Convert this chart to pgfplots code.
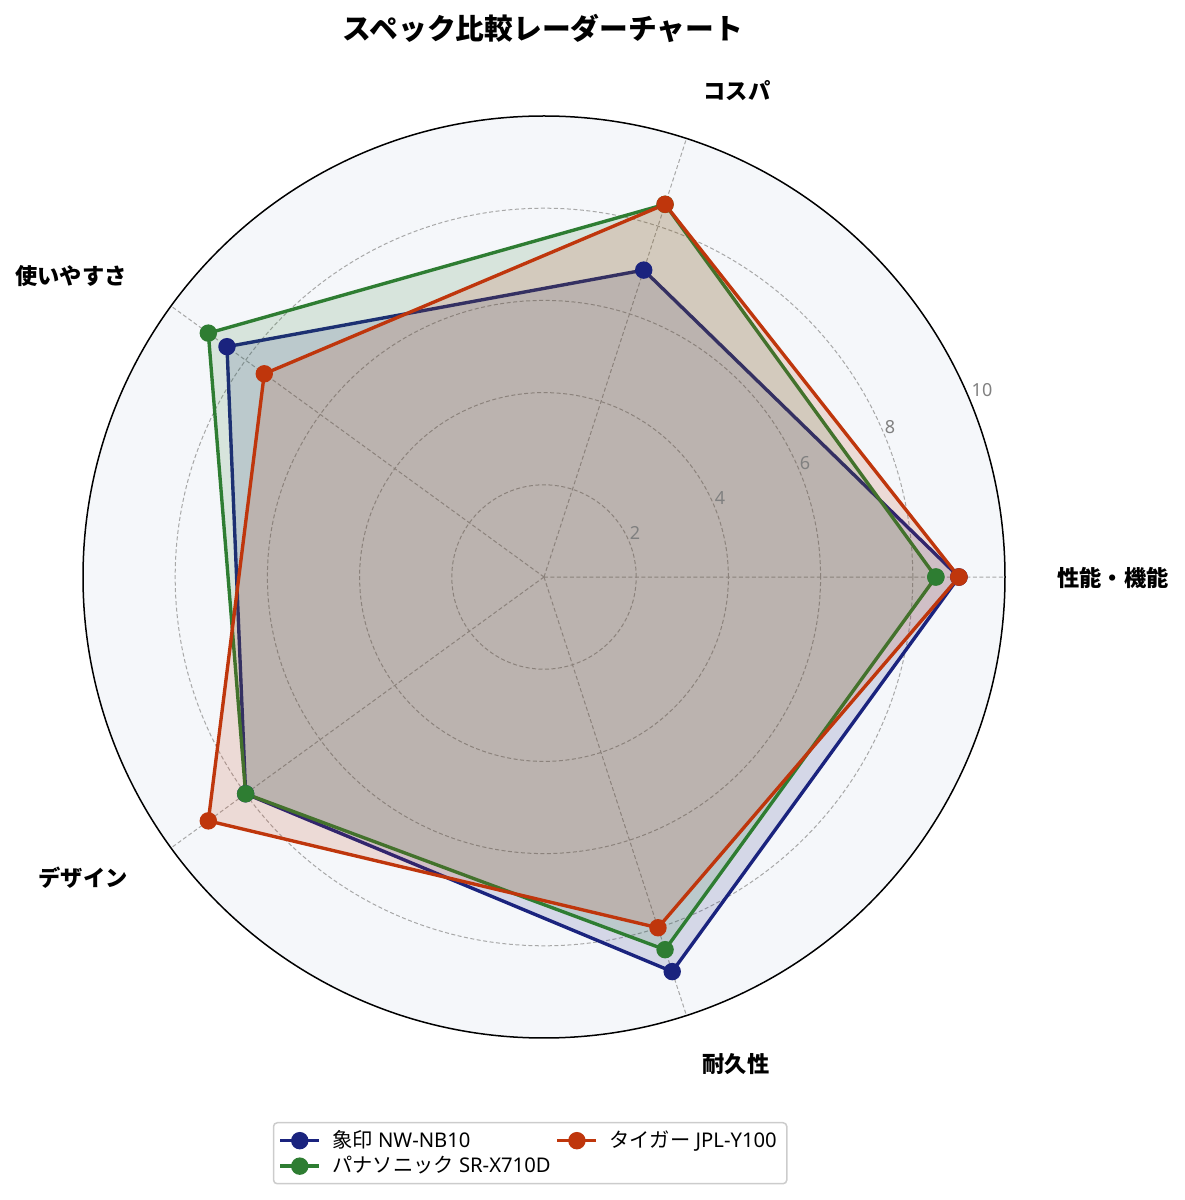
\documentclass[border=0pt]{standalone}
\usepackage{fontspec}
\setmainfont{Noto Sans}
\newfontfamily\jp{Noto Sans CJK JP}
\usepackage{pgfplots}
\pgfplotsset{compat=1.18}
\usepgfplotslibrary{polar}

\definecolor{cblue}{HTML}{1A237E}
\definecolor{cgreen}{HTML}{2E7D32}
\definecolor{cred}{HTML}{BF360C}
\definecolor{bgpolar}{HTML}{F5F7FA}
\definecolor{gridc}{HTML}{A8A8A8}
\definecolor{tickc}{HTML}{808080}

\begin{document}
\begin{tikzpicture}
  % page = 1185 x 1200 px at 0.4pt per px
  \path[use as bounding box] (0,0) rectangle (474pt,480pt);
  \fill[bgpolar] (217.6pt,249.2pt) circle (184.4pt);

  \begin{polaraxis}[
      at={(217.6pt,249.2pt)}, anchor=center,
      scale only axis, width=368.8pt, height=368.8pt,
      ymin=0, ymax=10, clip=false,
      xtick={0,72,144,216,288}, xticklabels={,,,,,},
      ytick={2,4,6,8}, yticklabels={,,,,},
      major tick length=0pt,
      grid=major,
      major grid style={gridc, line width=0.4pt, dash pattern=on 1.6pt off 1pt},
      axis line style={draw=none},
      legend columns=2,
      legend cell align=left,
      legend style={at={(0.485,-0.0911)}, anchor=north,
        draw=black!20, line width=0.6pt, rounded corners=1.5pt,
        font=\fontsize{8.1}{9}\selectfont,
        inner xsep=2pt, inner ysep=1pt,
        /tikz/every odd column/.append style={column sep=2.5pt},
        /tikz/every even column/.append style={column sep=0pt},
        row sep=-2pt},
      legend image code/.code={%
        \draw[mark repeat=2,mark phase=2] plot coordinates {(0cm,0cm) (0.275cm,0cm) (0.55cm,0cm)};},
    ]

    %% legend in matplotlib column order
    \addlegendimage{cblue, line width=1.35pt, mark=*, mark size=2.8pt, mark options={draw=none, fill=cblue}}
    \addlegendentry{{\jp 象印} NW-NB10}
    \addlegendimage{cred, line width=1.35pt, mark=*, mark size=2.8pt, mark options={draw=none, fill=cred}}
    \addlegendentry{{\jp タイガー} JPL-Y100}
    \addlegendimage{cgreen, line width=1.35pt, mark=*, mark size=2.8pt, mark options={draw=none, fill=cgreen}}
    \addlegendentry{{\jp パナソニック} SR-X710D}

    %% --- 象印 ---
    \addplot[forget plot, cblue, line width=1.35pt, fill=cblue, fill opacity=0.15,
      mark=*, mark size=2.8pt, mark options={draw=none, fill=cblue, fill opacity=1}]
      coordinates {(0,9) (72,7) (144,8.5) (216,8) (288,9) (360,9)};

    %% --- パナソニック ---
    \addplot[forget plot, cgreen, line width=1.35pt, fill=cgreen, fill opacity=0.15,
      mark=*, mark size=2.8pt, mark options={draw=none, fill=cgreen, fill opacity=1}]
      coordinates {(0,8.5) (72,8.5) (144,9) (216,8) (288,8.5) (360,8.5)};

    %% --- タイガー ---
    \addplot[forget plot, cred, line width=1.35pt, fill=cred, fill opacity=0.15,
      mark=*, mark size=2.8pt, mark options={draw=none, fill=cred, fill opacity=1}]
      coordinates {(0,9) (72,8.5) (144,7.5) (216,9) (288,8) (360,9)};
  \end{polaraxis}

  %% outer circle
  \draw[black, line width=0.6pt] (217.6pt,249.2pt) circle (184.4pt);

  %% title
  \node[font=\jp\fontsize{11.5}{13}\selectfont\bfseries] at (217.2pt,468.8pt) {スペック比較レーダーチャート};

  %% category labels
  \begin{scope}[every node/.style={font=\jp\fontsize{8.9}{10}\selectfont\bfseries}]
    \node at (445.2pt,248.8pt) {性能・機能};
    \node at (294.8pt,443.6pt) {コスパ};
    \node at (28.4pt,369.6pt) {使いやすさ};
    \node at (33.2pt,128.8pt) {デザイン};
    \node at (294.4pt,54.4pt) {耐久性};
  \end{scope}

  %% radial tick labels
  \begin{scope}[every node/.style={font=\fontsize{7.2}{8}\selectfont, text=tickc}]
    \node at (392.8pt,324pt) {10};
    \node at (356pt,309.2pt) {8};
    \node at (322pt,294.8pt) {6};
    \node at (288pt,280.8pt) {4};
    \node at (254pt,266.8pt) {2};
  \end{scope}
\end{tikzpicture}
\end{document}
